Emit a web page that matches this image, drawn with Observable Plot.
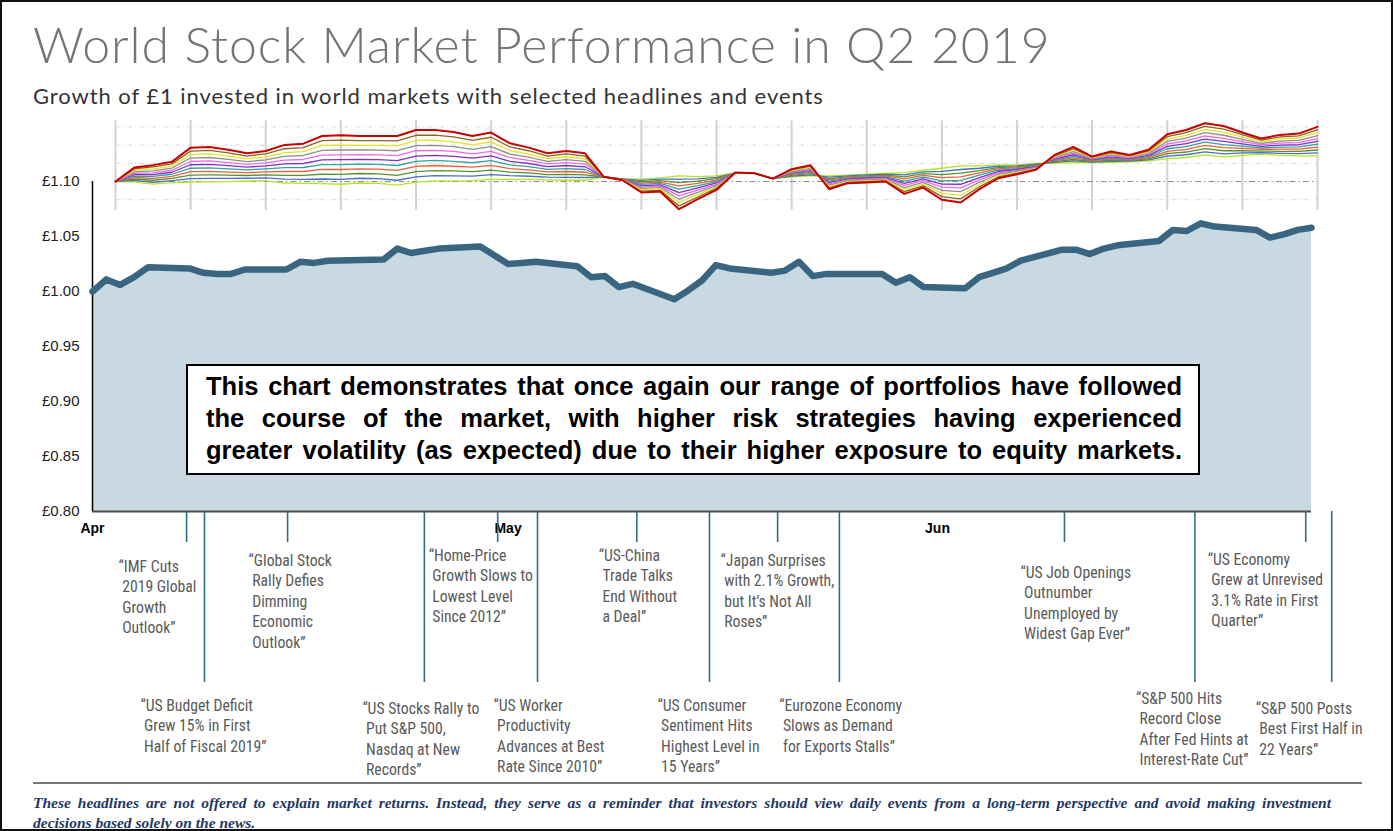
<!DOCTYPE html>
<html>
<head>
<meta charset="utf-8">
<script src="https://cdn.jsdelivr.net/npm/d3@7"></script>
<script src="https://cdn.jsdelivr.net/npm/@observablehq/plot@0.6"></script>
<style>
  html, body { margin: 0; padding: 0; background: #fff; }
  #page { position: relative; width: 1393px; height: 831px; overflow: hidden; background: #fff; }
  #page > .layer { position: absolute; left: 0; top: 0; }
  #page svg { display: block; overflow: visible; }
  #title { position: absolute; left: 33px; top: 15px; font-family: Lato, "Open Sans", sans-serif; font-weight: 300; font-size: 50px; line-height: 58px; color: #747474; white-space: nowrap; letter-spacing: 0.9px; }
  #subtitle { position: absolute; left: 33px; top: 83px; font-family: Lato, "Open Sans", sans-serif; font-size: 22px; line-height: 26px; color: #333; white-space: nowrap; letter-spacing: 0.93px; }
  #box { position: absolute; left: 186px; top: 364px; width: 1014px; height: 111px; box-sizing: border-box; border: 2px solid #000; background: #fff; padding: 4px 16px 0 18px; font-family: "Liberation Sans", Arial, sans-serif; font-weight: bold; font-size: 25.5px; line-height: 32px; color: #000; }
  #box div { white-space: nowrap; text-align: justify; text-align-last: justify; }
  #rule { position: absolute; left: 33px; top: 782px; width: 1329px; height: 2px; background: #777; }
  #note { position: absolute; left: 33px; top: 793px; width: 1298px; font-family: "Liberation Serif", "Times New Roman", serif; font-style: italic; font-weight: bold; font-size: 15.5px; line-height: 20px; color: #1f3864; }
  #note .l1 { white-space: nowrap; text-align: justify; text-align-last: justify; }
  #frame { position: absolute; left: 0; top: 0; width: 1393px; height: 831px; box-sizing: border-box; border: 2px solid #111; pointer-events: none; }
</style>
</head>
<body>
<div id="page">
  <div id="mainLayer" class="layer"></div>
  <div id="insetLayer" class="layer"></div>
  <div id="annotLayer" class="layer" style="top:511px"></div>
  <div id="title">World Stock Market Performance in Q2 2019</div>
  <div id="subtitle">Growth of £1 invested in world markets with selected headlines and events</div>
  <div id="box">
    <div>This chart demonstrates that once again our range of portfolios have followed</div>
    <div>the course of the market, with higher risk strategies having experienced</div>
    <div>greater volatility (as expected) due to their higher exposure to equity markets.</div>
  </div>
  <div id="rule"></div>
  <div id="note"><div class="l1">These headlines are not offered to explain market returns. Instead, they serve as a reminder that investors should view daily events from a long-term perspective and avoid making investment</div><div>decisions based solely on the news.</div></div>
  <div id="frame"></div>
</div>
<script>
// ---------- DATA ----------
// World equity market: growth of £1 (trading days, Q2 2019)
const marketDates = [
  "2019-04-01","2019-04-02","2019-04-03","2019-04-04","2019-04-05","2019-04-08","2019-04-09","2019-04-10","2019-04-11","2019-04-12",
  "2019-04-15","2019-04-16","2019-04-17","2019-04-18","2019-04-22","2019-04-23","2019-04-24","2019-04-25","2019-04-26","2019-04-29","2019-04-30",
  "2019-05-01","2019-05-02","2019-05-03","2019-05-06","2019-05-07","2019-05-08","2019-05-09","2019-05-10","2019-05-13","2019-05-14",
  "2019-05-15","2019-05-16","2019-05-17","2019-05-20","2019-05-21","2019-05-22","2019-05-23","2019-05-24","2019-05-28","2019-05-29","2019-05-30","2019-05-31",
  "2019-06-03","2019-06-04","2019-06-05","2019-06-06","2019-06-07","2019-06-10","2019-06-11","2019-06-12","2019-06-13","2019-06-14",
  "2019-06-17","2019-06-18","2019-06-19","2019-06-20","2019-06-21","2019-06-24","2019-06-25","2019-06-26","2019-06-27","2019-06-28"
];
const marketValues = [
  1.000,1.011,1.006,1.013,1.022,1.021,1.017,1.016,1.016,1.020,
  1.020,1.027,1.026,1.028,1.029,1.039,1.035,1.037,1.039,1.041,1.033,
  1.025,1.026,1.027,1.023,1.013,1.014,1.004,1.007,0.993,1.001,
  1.010,1.024,1.021,1.017,1.019,1.027,1.014,1.016,1.016,1.008,1.013,1.004,
  1.003,1.013,1.017,1.021,1.028,1.038,1.038,1.034,1.039,1.042,
  1.046,1.056,1.055,1.062,1.059,1.056,1.049,1.052,1.056,1.058
];
const yTicks = [0.80, 0.85, 0.90, 0.95, 1.00, 1.05, 1.10];
const monthTicks = ["2019-04-01", "2019-05-01", "2019-06-01"];

// Portfolio range (inset), % change from start, one value per trading day
const portfolio11 = [0,0.77,0.90,1.08,1.86,1.90,1.74,1.55,1.68,2.01, 2.08,2.50,2.54,2.50,2.50,2.50,2.83,2.83,2.72,2.50, 2.69,2.10,1.86,1.55,1.68,1.55,0.26,0.07,-0.60,-0.55, -1.52,-0.97,-0.46,0.49,0.46,0.16,0.68,0.90,-0.42,-0.09, -0.05,0.00,-0.68,-0.33,-1.00,-1.15,-0.42,0.18,0.40,0.64, 1.46,1.90,1.37,1.65,1.46,1.74,2.60,2.83,3.20,3.05, 2.69,2.36,2.56,2.63,3.00];
const portfolio10 = [0,0.69,0.80,0.97,1.67,1.71,1.57,1.40,1.52,1.80, 1.86,2.24,2.27,2.24,2.24,2.23,2.54,2.55,2.45,2.26, 2.43,1.90,1.69,1.40,1.52,1.40,0.26,0.08,-0.53,-0.48, -1.34,-0.85,-0.38,0.49,0.46,0.16,0.64,0.84,-0.35,-0.05, 0.00,0.04,-0.56,-0.24,-0.83,-0.95,-0.29,0.25,0.45,0.68, 1.41,1.81,1.34,1.59,1.42,1.68,2.47,2.68,3.03,2.88, 2.57,2.27,2.45,2.51,2.84];
const portfolio9 = [0,0.61,0.69,0.85,1.48,1.52,1.39,1.25,1.35,1.59, 1.64,1.98,2.00,1.98,1.98,1.96,2.26,2.27,2.18,2.01, 2.18,1.70,1.51,1.26,1.36,1.25,0.26,0.09,-0.45,-0.40, -1.15,-0.72,-0.31,0.48,0.46,0.16,0.60,0.78,-0.27,0.00, 0.04,0.09,-0.45,-0.14,-0.65,-0.75,-0.16,0.33,0.50,0.71, 1.37,1.73,1.30,1.53,1.38,1.62,2.33,2.53,2.85,2.71, 2.44,2.19,2.34,2.39,2.68];
const portfolio8 = [0,0.53,0.59,0.74,1.29,1.32,1.22,1.09,1.19,1.38, 1.43,1.71,1.73,1.73,1.72,1.69,1.97,1.99,1.92,1.77, 1.92,1.51,1.34,1.11,1.20,1.11,0.26,0.09,-0.38,-0.33, -0.97,-0.60,-0.23,0.48,0.46,0.16,0.55,0.72,-0.20,0.04, 0.09,0.13,-0.33,-0.05,-0.48,-0.55,-0.04,0.40,0.55,0.75, 1.32,1.64,1.27,1.47,1.35,1.56,2.20,2.38,2.68,2.54, 2.32,2.10,2.22,2.26,2.52];
const portfolio7 = [0,0.45,0.48,0.62,1.10,1.13,1.04,0.94,1.02,1.17, 1.21,1.45,1.46,1.47,1.46,1.42,1.69,1.71,1.65,1.52, 1.66,1.31,1.16,0.97,1.04,0.96,0.26,0.10,-0.31,-0.25, -0.79,-0.47,-0.15,0.48,0.46,0.16,0.51,0.66,-0.13,0.09, 0.13,0.18,-0.21,0.05,-0.31,-0.35,0.09,0.47,0.60,0.78, 1.28,1.56,1.24,1.41,1.31,1.50,2.06,2.23,2.50,2.37, 2.19,2.02,2.11,2.14,2.36];
const portfolio6 = [0,0.38,0.38,0.51,0.92,0.94,0.87,0.79,0.86,0.97, 0.99,1.19,1.20,1.21,1.20,1.15,1.40,1.44,1.38,1.28, 1.41,1.11,0.99,0.82,0.88,0.81,0.26,0.11,-0.24,-0.18, -0.61,-0.35,-0.08,0.48,0.46,0.16,0.47,0.61,-0.06,0.13, 0.18,0.22,-0.10,0.15,-0.14,-0.15,0.22,0.55,0.66,0.82, 1.23,1.47,1.21,1.35,1.27,1.44,1.93,2.08,2.33,2.20, 2.07,1.93,2.00,2.02,2.21];
const portfolio5 = [0,0.30,0.28,0.40,0.73,0.75,0.70,0.64,0.70,0.76, 0.77,0.93,0.93,0.95,0.94,0.88,1.11,1.16,1.11,1.03, 1.15,0.91,0.82,0.67,0.71,0.66,0.26,0.12,-0.16,-0.10, -0.42,-0.23,0.00,0.47,0.46,0.16,0.43,0.55,0.02,0.17, 0.22,0.26,0.02,0.24,0.04,0.06,0.35,0.62,0.71,0.86, 1.18,1.38,1.17,1.29,1.23,1.37,1.80,1.92,2.16,2.03, 1.94,1.84,1.89,1.90,2.05];
const portfolio4 = [0,0.22,0.17,0.28,0.54,0.56,0.52,0.49,0.53,0.55, 0.55,0.67,0.66,0.69,0.68,0.61,0.83,0.88,0.84,0.79, 0.89,0.71,0.64,0.53,0.55,0.51,0.26,0.13,-0.09,-0.03, -0.24,-0.10,0.08,0.47,0.46,0.16,0.39,0.49,0.09,0.22, 0.27,0.31,0.14,0.34,0.21,0.26,0.48,0.69,0.76,0.89, 1.14,1.30,1.14,1.23,1.19,1.31,1.66,1.77,1.98,1.86, 1.82,1.76,1.78,1.78,1.89];
const portfolio3 = [0,0.14,0.07,0.17,0.35,0.36,0.35,0.33,0.37,0.34, 0.34,0.40,0.39,0.44,0.42,0.34,0.54,0.60,0.58,0.54, 0.63,0.52,0.47,0.38,0.39,0.37,0.26,0.13,-0.02,0.05, -0.06,0.02,0.16,0.47,0.46,0.16,0.34,0.43,0.16,0.26, 0.31,0.35,0.26,0.43,0.38,0.46,0.60,0.76,0.81,0.93, 1.09,1.21,1.11,1.17,1.16,1.25,1.53,1.62,1.81,1.69, 1.69,1.67,1.66,1.65,1.73];
const portfolio2 = [0,0.06,-0.04,0.05,0.16,0.17,0.17,0.18,0.20,0.13, 0.12,0.14,0.12,0.18,0.16,0.07,0.26,0.32,0.31,0.30, 0.38,0.32,0.29,0.24,0.23,0.22,0.26,0.14,0.06,0.13, 0.13,0.15,0.23,0.46,0.46,0.16,0.30,0.37,0.24,0.31, 0.36,0.40,0.37,0.53,0.56,0.66,0.73,0.84,0.86,0.96, 1.05,1.13,1.07,1.11,1.12,1.19,1.39,1.47,1.63,1.52, 1.57,1.59,1.55,1.53,1.57];
const portfolio1 = [0,-0.02,-0.14,-0.06,-0.03,-0.02,0.00,0.03,0.04,-0.08, -0.10,-0.12,-0.15,-0.08,-0.10,-0.20,-0.03,0.04,0.04,0.05, 0.12,0.12,0.12,0.09,0.07,0.07,0.26,0.15,0.13,0.20, 0.31,0.27,0.31,0.46,0.46,0.16,0.26,0.31,0.31,0.35, 0.40,0.44,0.49,0.62,0.73,0.86,0.86,0.91,0.91,1.00, 1.00,1.04,1.04,1.05,1.08,1.13,1.26,1.32,1.46,1.35, 1.44,1.50,1.44,1.41,1.41];

// Headlines
const headlineDates = [
  "2019-04-07T19:00Z","2019-04-15T02:00Z","2019-04-30T06:00Z","2019-05-10T07:00Z","2019-05-20T11:00Z","2019-06-10T04:00Z","2019-06-27T14:00Z",
  "2019-04-09T02:00Z","2019-04-24T23:00Z","2019-05-03T03:00Z","2019-05-15T13:00Z","2019-05-24T22:00Z","2019-06-19T14:00Z","2019-06-29T11:00Z"
];
const headlineRow = ["upper","upper","upper","upper","upper","upper","upper","lower","lower","lower","lower","lower","lower","lower"];
const headlineTexts = [
  "“IMF Cuts\n\u00a02019 Global\n\u00a0Growth\n\u00a0Outlook”",
  "“Global Stock\n\u00a0Rally Defies\n\u00a0Dimming\n\u00a0Economic\n\u00a0Outlook”",
  "“Home-Price\n\u00a0Growth Slows to\n\u00a0Lowest Level\n\u00a0Since 2012”",
  "“US-China\n\u00a0Trade Talks\n\u00a0End Without\n\u00a0a Deal”",
  "“Japan Surprises\n\u00a0with 2.1% Growth,\n\u00a0but It’s Not All\n\u00a0Roses”",
  "“US Job Openings\n\u00a0Outnumber\n\u00a0Unemployed by\n\u00a0Widest Gap Ever”",
  "“US Economy\n\u00a0Grew at Unrevised\n\u00a03.1% Rate in First\n\u00a0Quarter”",
  "“US Budget Deficit\n\u00a0Grew 15% in First\n\u00a0Half of Fiscal 2019”",
  "“US Stocks Rally to\n\u00a0Put S&P 500,\n\u00a0Nasdaq at New\n\u00a0Records”",
  "“US Worker\n\u00a0Productivity\n\u00a0Advances at Best\n\u00a0Rate Since 2010”",
  "“US Consumer\n\u00a0Sentiment Hits\n\u00a0Highest Level in\n\u00a015 Years”",
  "“Eurozone Economy\n\u00a0Slows as Demand\n\u00a0for Exports Stalls”",
  "“S&P 500 Hits\n\u00a0Record Close\n\u00a0After Fed Hints at\n\u00a0Interest-Rate Cut”",
  "“S&P 500 Posts\n\u00a0Best First Half in\n\u00a022 Years”"
];

// ---------- LAYOUT / STYLE ----------
const portfolioColors = ["#b5e61d","#4472c4","#5a8f2e","#f0603a","#2ea3a0","#7d33c4","#ec6ae6","#8f8f8f","#e3e32a","#8a6420","#c80000"];
const labelDx = [-68,-39,-69,-38,-57,-44,-98, -64,-62,-44,-52,-60,-59,-76];
const labelTop = [46,40,35,35,40,52,39, 185,188,185,185,185,178,188];
const shortLen = 31, longLen = 171;

const narrow = '"Liberation Sans Narrow", "Arial Narrow", "Roboto Condensed", sans-serif';

// ---------- BUILD ----------
const market = marketDates.map((d, i) => ({date: new Date(d + "T00:00Z"), value: marketValues[i]}));
const startDate = new Date("2019-04-01T00:00Z");
const endDate = new Date("2019-06-28T00:00Z");
const xOpts = {type: "utc", domain: [startDate, endDate], axis: null};

const mainPlot = Plot.plot({
  width: 1393, height: 540,
  marginTop: 181, marginBottom: 29, marginLeft: 92, marginRight: 82,
  x: xOpts,
  y: {domain: [0.80, 1.10], axis: null},
  style: {background: "transparent", fontFamily: '"Liberation Sans", Arial, sans-serif', fontSize: "15px", color: "#222", overflow: "visible"},
  marks: [
    Plot.area(market, {x1: "date", y1: () => 0.80, y2: "value", fill: "#c9d9e2"}),
    Plot.ruleY([0.80], {x1: startDate, x2: endDate, stroke: "#4d4d4d", strokeWidth: 2}),
    Plot.ruleX([startDate], {y1: 0.80, y2: 1.10, stroke: "#000", strokeWidth: 1.5}),
    Plot.line(market, {x: "date", y: "value", stroke: "#3a6580", strokeWidth: 6.5, strokeLinejoin: "round", strokeLinecap: "round"}),
    Plot.axisY({ticks: yTicks, label: null, tickSize: 0, tickPadding: 13, tickFormat: d => "£" + d.toFixed(2), fill: "#222"}),
    Plot.text(monthTicks, {x: d => new Date(d + "T00:00Z"), text: d => d3.utcFormat("%b")(new Date(d + "T00:00Z")), frameAnchor: "bottom", dy: 21, fontWeight: "bold", fontSize: 14, fill: "#000"})
  ]
});
document.getElementById("mainLayer").appendChild(mainPlot);

const portfolios = [portfolio1, portfolio2, portfolio3, portfolio4, portfolio5, portfolio6, portfolio7, portfolio8, portfolio9, portfolio10, portfolio11];
const insetPlot = Plot.plot({
  width: 1393, height: 220,
  marginTop: 120, marginBottom: 10, marginLeft: 115, marginRight: 76,
  x: {domain: [0, 64], axis: null},
  y: {domain: [-1.59, 3.35], axis: null},
  style: {background: "transparent", overflow: "visible"},
  marks: [
    Plot.ruleY([-1, 1, 2, 3], {stroke: "#d9d9d9", strokeDasharray: "5,3,1,3", strokeWidth: 1}),
    Plot.ruleX(d3.range(0, 65, 4), {stroke: "#d2d2d2", strokeWidth: 2}),
    Plot.ruleY([0], {stroke: "#8c8c8c", strokeDasharray: "6,3,1.5,3", strokeWidth: 1}),
    ...portfolios.map((p, k) => Plot.line(p, {
      x: (d, i) => i, y: d => d,
      stroke: portfolioColors[k],
      strokeWidth: k === 10 ? 2 : 1.3,
      strokeLinejoin: "round"
    }))
  ]
});
document.getElementById("insetLayer").appendChild(insetPlot);

const headlines = headlineDates.map((d, i) => ({date: new Date(d), row: headlineRow[i], text: headlineTexts[i], idx: i}));
const annotPlot = Plot.plot({
  width: 1393, height: 280,
  marginTop: 0, marginBottom: 0, marginLeft: 92, marginRight: 82,
  x: xOpts,
  y: {domain: [0, 280], range: [0, 280], axis: null},
  style: {background: "transparent", overflow: "visible"},
  marks: [
    Plot.ruleX(headlines, {x: "date", y1: 0, y2: d => d.row === "upper" ? shortLen : longLen, stroke: "#2f6f86", strokeWidth: 1.6}),
    ...headlines.map((h, i) => Plot.text([h], {
      x: "date", y: () => labelTop[i], text: "text",
      dx: labelDx[i], textAnchor: "start", lineAnchor: "top",
      lineHeight: 1.3, fontSize: 15.7, fontFamily: narrow, fill: "#5a5a5a"
    }))
  ]
});
document.getElementById("annotLayer").appendChild(annotPlot);
</script>
</body>
</html>
